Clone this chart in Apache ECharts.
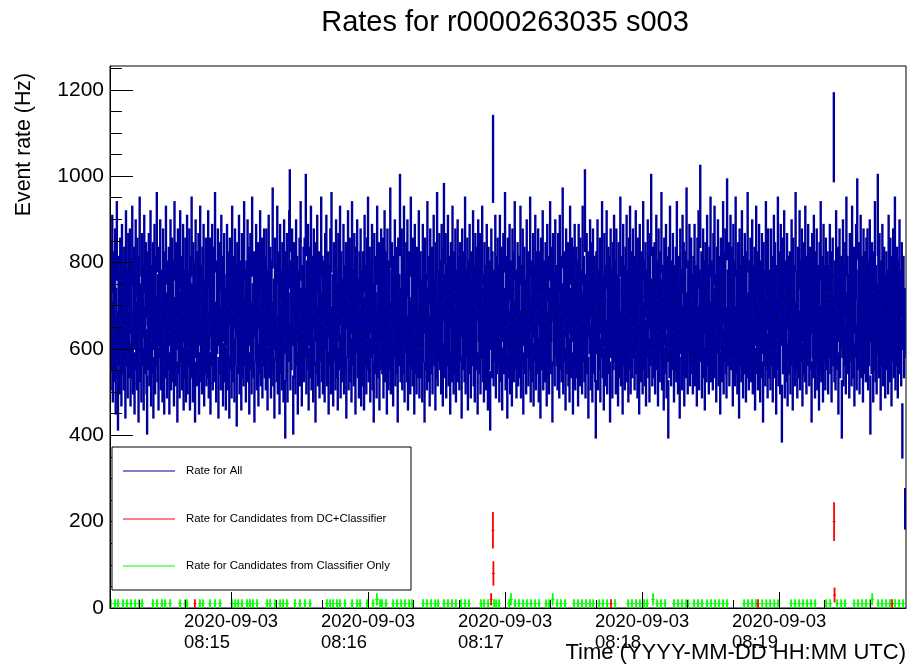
<!DOCTYPE html>
<html>
<head>
<meta charset="utf-8">
<script src="https://cdn.jsdelivr.net/npm/echarts@6/dist/echarts.min.js"></script>
<style>
html,body{margin:0;padding:0;background:#fff;}
#chart{width:908px;height:665px;}
</style>
</head>
<body>
<div id="chart"></div>
<script>
// Run r0000263035 s003, times in seconds after 08:00 UTC on 2020-09-03
const runStart = 847;        // 08:14:07
const runEnd = 1195.6;
const sampleStep = 0.25;     // spacing of plotted samples, s
const binWidth = 0.1;        // counting window of each sample, s

// events per counting window, all triggers
const allCounts = [
71,58,76,63,82,55,68,74,60,79,52,66,85,61,48,73,64,57,77,69,54,80,62,71,58,75,66,51,83,64,70,56,78,61,
66,79,54,72,61,84,57,69,75,52,68,81,63,58,77,65,50,73,86,60,67,55,78,64,71,53,82,62,69,76,57,47,74,63,
78,59,67,83,54,71,62,76,51,68,80,57,73,64,87,60,69,53,75,66,81,58,70,63,55,79,67,52,74,61,84,65,56,72,
63,75,52,69,81,58,66,77,60,72,54,85,64,59,76,68,50,79,62,71,56,83,65,73,58,67,80,53,70,61,77,55,68,82,
57,70,64,79,53,73,61,86,67,55,76,62,72,50,81,66,59,74,63,78,52,69,84,60,71,57,75,65,80,54,68,62,77,59,
74,61,83,56,68,77,52,71,64,80,58,66,75,60,87,63,55,72,67,79,51,69,76,62,58,82,65,73,54,70,78,60,66,53,
69,80,58,65,74,51,77,63,70,56,84,67,60,73,55,79,64,71,49,76,62,68,82,57,72,66,53,78,61,75,59,85,64,70,
55,72,66,81,60,75,52,69,78,63,57,86,67,61,74,50,71,65,80,58,69,76,54,73,62,83,59,68,77,56,70,64,79,61,
73,58,79,64,53,70,82,61,67,75,56,72,63,88,59,68,51,77,65,71,60,84,57,74,66,52,80,62,70,58,76,65,55,81,
67,46,74,60,78,55,70,65,83,92,58,72,63,79,69,47,76,61,68,57,81,64,73,52,70,62,77,59,85,66,54,71,63,75,
60,77,66,91,57,72,63,80,53,69,75,61,84,58,67,73,55,79,64,70,50,76,62,82,59,68,74,56,71,65,86,60,73,57,
72,63,55,78,68,82,59,66,74,52,71,64,79,57,87,62,69,54,76,65,73,58,81,61,67,53,78,70,63,84,56,74,60,68,
65,80,57,71,62,76,51,73,66,83,58,69,77,60,72,55,85,64,70,59,78,63,52,75,67,81,61,68,56,74,62,79,54,70,
59,74,68,53,82,64,71,57,77,63,86,60,69,75,55,72,66,80,58,67,50,78,62,73,65,56,84,61,70,76,53,68,63,79,
71,62,77,56,69,83,60,74,65,52,79,67,58,72,63,88,57,70,76,61,54,73,66,81,59,68,75,62,50,77,64,69,91,60,
66,79,58,73,62,84,55,70,67,76,60,81,53,68,74,64,57,86,63,71,59,77,66,52,80,62,72,57,75,69,61,83,56,70,
74,61,68,55,80,65,72,50,77,63,69,58,85,66,73,60,54,79,67,62,75,57,71,82,64,68,53,76,61,87,59,70,65,78,
63,72,57,80,66,54,75,89,61,69,78,56,71,64,82,59,67,73,52,76,65,60,84,68,57,74,62,79,55,70,66,81,60,73,
58,76,65,71,51,79,63,68,74,60,86,57,70,66,77,53,72,62,80,67,56,74,64,69,83,59,71,55,78,63,67,75,52,81,
70,62,78,57,73,66,84,60,69,55,76,64,71,58,80,67,53,75,63,72,48,68,79,61,74,104,59,70,65,82,56,73,62,77,
64,71,55,82,68,60,75,53,70,78,62,66,87,58,73,64,51,77,69,61,80,57,72,65,54,79,67,74,60,85,63,70,56,68,
76,59,67,73,61,84,56,71,64,79,52,69,75,62,68,57,81,66,74,59,70,63,86,55,72,67,60,78,54,71,65,82,58,74,
62,70,79,55,74,66,51,77,63,69,83,58,72,65,60,76,68,54,80,61,73,57,66,85,62,70,75,50,78,64,69,59,81,67,
71,64,58,78,69,56,82,63,73,60,67,88,57,74,65,71,53,79,62,68,76,59,72,55,84,66,61,77,70,52,75,64,80,58,
68,75,61,72,54,80,66,59,77,63,70,57,84,65,73,60,92,56,69,78,62,74,51,71,67,81,58,76,64,55,79,68,62,73,
60,46,74,67,81,58,70,63,77,55,72,66,85,61,69,53,78,64,71,59,83,57,68,75,62,73,50,79,66,70,56,76,63,82,
65,72,57,79,63,69,54,76,68,61,86,59,73,66,52,80,64,71,58,75,67,82,60,70,55,77,63,84,57,68,74,61,79,66,
73,58,68,83,62,71,56,77,65,52,80,67,60,74,69,57,85,63,72,59,76,54,70,66,81,61,73,55,78,64,91,68,59,75,
61,70,76,57,67,82,63,72,54,79,66,60,74,68,87,58,71,64,53,77,69,62,80,56,73,65,46,75,61,84,67,59,72,63,
78,66,55,71,63,75,60,85,68,57,73,64,51,79,67,70,58,82,62,76,54,69,74,61,88,65,57,72,68,80,59,66,77,62,
69,57,73,64,80,59,71,66,54,77,62,83,58,70,93,65,74,56,68,79,61,72,53,76,67,60,82,64,71,57,75,63,86,60,
72,64,58,78,66,84,61,69,55,75,67,81,59,73,63,52,77,68,60,71,85,57,74,65,79,62,56,90,70,64,76,59,68,82,
63,75,68,54,80,65,72,59,86,62,70,57,76,66,51,79,64,71,60,83,67,56,73,62,78,69,55,74,61,87,65,58,72,67,
77,60,66,81,57,71,63,75,53,69,84,62,74,58,68,80,65,55,72,61,78,67,50,76,64,70,59,85,63,73,56,79,66,61,
70,58,79,64,73,55,68,82,61,76,67,52,71,63,86,59,74,66,57,80,69,45,77,62,70,83,56,72,65,60,78,54,73,67,
62,74,57,69,81,64,53,77,66,71,59,87,63,70,56,75,68,61,83,58,72,65,79,54,70,62,76,60,84,67,57,73,64,80,
68,59,75,63,72,50,78,66,61,82,69,56,74,64,79,58,71,67,53,76,62,85,60,73,68,55,80,65,71,58,77,63,69,74,
57,71,66,80,62,74,55,69,77,64,109,60,72,58,83,67,63,75,52,70,79,61,68,73,46,66,81,59,71,64,76,57,86,65,
73,62,69,56,78,65,71,59,84,67,61,75,54,72,66,80,58,90,63,70,76,57,68,82,61,73,65,55,79,68,62,74,60,77,
66,79,58,72,64,81,47,70,62,76,68,55,74,63,85,60,71,57,67,91,73,61,78,66,53,72,64,80,59,70,75,62,56,69,
74,63,70,57,82,66,60,77,68,54,73,65,79,61,71,86,58,69,64,75,56,72,67,81,62,70,59,76,41,68,73,61,66,23
];

// candidates from DC+Classifier: offset from run start (s) and events per window
const dcTimes  = [37.2, 166.9, 167.7, 167.9, 219.4, 283.8, 317.1, 317.3, 342.5];
const dcCounts = [1,    2,     18,    8,     1,     1,     20,    3,     1];

// candidates from Classifier only: offset from run start (s) and events per window
const clsTimes = [
0.4,2.2,3.5,5.7,7.4,9.2,11.0,12.7,14.0,
18.8,20.6,22.8,24.1,26.3,
30.7,32.9,33.7,39.4,40.7,43.8,46.0,48.2,
53.4,54.8,56.1,57.8,60.0,61.3,62.6,64.4,
68.8,70.1,72.3,74.5,75.8,77.5,81.0,83.2,85.4,87.6,
95.0,96.4,97.7,99.4,100.7,102.9,106.0,108.2,109.5,112.6,115.2,116.9,118.3,119.1,120.9,
124.0,125.7,127.5,129.2,131.0,132.3,
137.1,138.8,140.6,142.4,143.7,
146.3,148.0,149.8,151.5,
153.7,155.5,157.2,
162.5,163.8,165.6,168.2,169.1,170.4,
174.8,175.6,177.4,179.1,180.9,182.6,
184.4,186.2,187.9,
191.0,192.3,193.9,195.8,197.5,199.3,
203.2,205.0,206.7,208.5,210.2,211.6,
214.2,215.9,217.7,221.2,
226.9,228.6,230.4,232.1,233.9,235.2,
237.8,239.6,241.3,243.1,
247.0,248.8,250.5,252.3,253.2,
255.8,257.5,259.3,
261.5,263.2,265.0,266.7,268.5,270.2,
277.7,279.4,281.2,282.9,285.6,287.4,289.1,290.9,292.6,
298.3,300.0,301.8,303.5,305.3,307.0,308.8,
313.6,315.4,318.4,
320.2,321.9,
325.9,327.6,329.4,331.1,332.9,333.8,
336.4,338.1,339.9,341.6,343.8,345.6,347.3
];
const clsCounts = [
1,1,1,1,1,1,1,1,1,
1,1,1,1,1,
1,1,1,1,1,1,1,1,
1,1,1,1,1,1,1,1,
1,1,1,1,1,1,1,1,1,1,
1,1,1,1,1,1,1,1,1,1,1,2,1,1,1,
1,1,1,1,1,1,
1,1,1,1,1,
1,1,1,1,
1,1,1,
1,1,1,1,1,1,
1,2,1,1,1,1,
1,1,1,
1,1,2,1,1,1,
1,1,1,1,1,1,
1,1,1,1,
1,1,1,1,1,1,
2,1,1,1,
1,1,1,1,1,
1,1,1,
1,1,1,1,1,1,
1,1,1,1,1,1,1,1,1,
1,1,1,1,1,1,1,
1,1,1,
1,1,
1,1,1,1,1,2,
1,1,1,1,1,1,1
];

// axis ticks
const timeMajor = [900, 960, 1020, 1080, 1140];
const timeMinor = [860, 880, 920, 940, 980, 1000, 1040, 1060, 1100, 1120, 1160, 1180];
const rateMajor = [0, 200, 400, 600, 800, 1000, 1200];
const rateMinor = [50, 100, 150, 250, 300, 350, 450, 500, 550, 650, 700, 750, 850, 900, 950, 1050, 1100, 1150, 1250];
const rateMax = 1255;
const dateText = '2020-09-03';

const seriesNames = ['Rate for All', 'Rate for Candidates from DC+Classifier', 'Rate for Candidates from Classifier Only'];
const seriesColors = ['#00009c', '#ff0000', '#00ff00'];

const FONT = '"Liberation Sans", Arial, Helvetica, sans-serif';

// rate and Poisson error for each counting window
function toRows(times, counts) {
  return counts.map((n, i) => [times[i], n / binWidth, Math.sqrt(n) / binWidth]);
}
const allTimes = allCounts.map((_, i) => runStart + i * sampleStep);
const allRows = toRows(allTimes, allCounts);
const dcRows = toRows(dcTimes.map(t => runStart + t), dcCounts);
const clsRows = toRows(clsTimes.map(t => runStart + t), clsCounts);

// vertical error bar, optionally with a short tick at the measured rate
function errorBars(color, lineWidth, tickWidth) {
  return function (params, api) {
    const x = api.value(0), y = api.value(1), e = api.value(2);
    const top = api.coord([x, y + e]);
    const bot = api.coord([x, Math.max(y - e, 0)]);
    const mid = api.coord([x, y]);
    const children = [
      { type: 'line', shape: { x1: top[0], y1: top[1], x2: bot[0], y2: bot[1] },
        style: { stroke: color, lineWidth: lineWidth } }
    ];
    if (tickWidth > 0) {
      children.push({ type: 'rect', shape: { x: mid[0] - tickWidth / 2, y: mid[1] - 0.5, width: tickWidth, height: 1 },
        style: { fill: color } });
    }
    return { type: 'group', children: children };
  };
}

// one-pixel marker at the measured rate
function pointMarker(color) {
  return function (params, api) {
    const p = api.coord([api.value(0), api.value(1)]);
    return { type: 'rect', shape: { x: p[0] - 0.5, y: p[1] - 0.5, width: 1.2, height: 1 }, style: { fill: color } };
  };
}

function timeLabel(v) {
  const m = Math.round(v / 60);
  const hh = String(8 + Math.floor(m / 60)).padStart(2, '0');
  const mm = String(m % 60).padStart(2, '0');
  return '{d|' + dateText + '}\n{d|' + hh + ':' + mm + '}';
}

const chart = echarts.init(document.getElementById('chart'), null, { renderer: 'canvas' });

const legendTop = 447, legendLeft = 112, legendW = 299, legendH = 143;
const legendRows = [471, 519, 566];

const legendGraphics = [
  { type: 'rect', z: 100, shape: { x: legendLeft, y: legendTop, width: legendW, height: legendH },
    style: { fill: '#fff', stroke: '#000', lineWidth: 1 } }
];
seriesNames.forEach((name, k) => {
  const y = legendRows[k];
  legendGraphics.push(
    { type: 'line', z: 101, shape: { x1: 123, y1: y, x2: 175, y2: y },
      style: { stroke: seriesColors[k], lineWidth: 1.2 } },
    { type: 'text', z: 101, x: 186, y: y,
      style: { text: name, fill: '#000', font: '11.4px ' + FONT, verticalAlign: 'middle', align: 'left' } }
  );
});

chart.setOption({
  animation: false,
  backgroundColor: '#fff',
  grid: { left: 110, right: 2, top: 66, bottom: 57, show: true, borderColor: '#000', borderWidth: 1, backgroundColor: 'transparent' },
  xAxis: [
    {
      type: 'value', min: runStart, max: runEnd, z: 10,
      axisLine: { show: true, lineStyle: { color: '#000', width: 1 } },
      axisTick: { show: true, inside: true, length: 16, customValues: timeMajor, lineStyle: { color: '#000', width: 1 } },
      axisLabel: {
        customValues: timeMajor, formatter: timeLabel, margin: 3, color: '#000',
        rich: { d: { width: 94, align: 'left', fontSize: 18.4, lineHeight: 21, fontFamily: FONT, color: '#000' } }
      },
      splitLine: { show: false }
    },
    {
      type: 'value', min: runStart, max: runEnd, z: 10, position: 'bottom',
      axisLine: { show: false },
      axisTick: { show: true, inside: true, length: 8, customValues: timeMinor, lineStyle: { color: '#000', width: 1 } },
      axisLabel: { show: false },
      splitLine: { show: false }
    }
  ],
  yAxis: [
    {
      type: 'value', min: 0, max: rateMax, z: 10,
      axisLine: { show: true, lineStyle: { color: '#000', width: 1 } },
      axisTick: { show: true, inside: true, length: 23, customValues: rateMajor, lineStyle: { color: '#000', width: 1 } },
      axisLabel: { customValues: rateMajor, formatter: v => String(v), margin: 6, color: '#000', fontSize: 21, fontFamily: FONT },
      splitLine: { show: false }
    },
    {
      type: 'value', min: 0, max: rateMax, z: 10, position: 'left',
      axisLine: { show: false },
      axisTick: { show: true, inside: true, length: 12, customValues: rateMinor, lineStyle: { color: '#000', width: 1 } },
      axisLabel: { show: false },
      splitLine: { show: false }
    }
  ],
  series: [
    { name: seriesNames[0], type: 'custom', xAxisIndex: 0, yAxisIndex: 0, clip: true, z: 2,
      renderItem: errorBars(seriesColors[0], 2.4, 0), data: allRows, encode: { x: 0, y: 1 } },
    { name: seriesNames[0] + ' points', type: 'custom', xAxisIndex: 0, yAxisIndex: 0, clip: true, z: 3,
      renderItem: pointMarker('#000'), data: allRows, encode: { x: 0, y: 1 } },
    { name: seriesNames[2], type: 'custom', xAxisIndex: 0, yAxisIndex: 0, clip: true, z: 4,
      renderItem: errorBars(seriesColors[2], 1.8, 4), data: clsRows, encode: { x: 0, y: 1 } },
    { name: seriesNames[1], type: 'custom', xAxisIndex: 0, yAxisIndex: 0, clip: true, z: 5,
      renderItem: errorBars(seriesColors[1], 1.8, 3), data: dcRows, encode: { x: 0, y: 1 } }
  ],
  graphic: [
    { type: 'text', x: 505, y: 23, z: 100,
      style: { text: 'Rates for r0000263035 s003', fill: '#000', font: '29px ' + FONT, align: 'center', verticalAlign: 'middle' } },
    { type: 'text', x: 24, y: 73, rotation: Math.PI / 2, z: 100,
      style: { text: 'Event rate (Hz)', fill: '#000', font: '21.3px ' + FONT, align: 'right', verticalAlign: 'middle' } },
    { type: 'text', x: 906, y: 653, z: 100,
      style: { text: 'Time (YYYY-MM-DD HH:MM UTC)', fill: '#000', font: '22px ' + FONT, align: 'right', verticalAlign: 'middle' } }
  ].concat(legendGraphics)
});
</script>
</body>
</html>
